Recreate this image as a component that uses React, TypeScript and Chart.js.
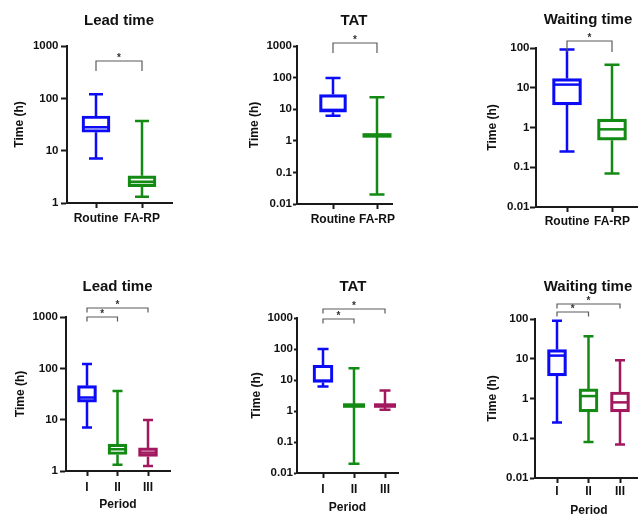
import React, { useEffect, useRef } from "react";
import { Chart, registerables } from "chart.js";

Chart.register(...registerables);

// ---------- data ----------
const studyGroups = ["Routine", "FA-RP"];
const periodGroups = ["I", "II", "III"];
const seriesColors = ["#0b0bf5", "#138a13", "#a3175f"];

// five-number summaries: [min, Q1, median, Q3, max]
const leadTimeStudy = [
  [7.1, 22.5, 28, 46, 120],
  [1.32, 2.05, 2.55, 3.3, 37],
];
const tatStudy = [
  [6.2, 8, 9.5, 29, 97],
  [0.02, 1.48, 1.48, 1.48, 24],
];
const waitingStudy = [
  [0.25, 3.7, 12, 17, 92],
  [0.07, 0.48, 0.9, 1.62, 38],
];
const leadTimePeriod = [
  [7, 22, 27, 46, 121],
  [1.33, 2.1, 2.65, 3.35, 36],
  [1.25, 1.92, 2.28, 2.82, 9.8],
];
const tatPeriod = [
  [6.2, 8.3, 9.5, 30, 100],
  [0.02, 1.5, 1.5, 1.5, 24],
  [1.1, 1.5, 1.5, 1.5, 4.6],
];
const waitingPeriod = [
  [0.25, 3.7, 12, 17, 90],
  [0.08, 0.46, 1.15, 1.74, 37],
  [0.07, 0.46, 0.8, 1.46, 9.2],
];

const leadTimeTicks = [1, 10, 100, 1000];
const tatTicks = [0.01, 0.1, 1, 10, 100, 1000];
const waitingTicks = [0.01, 0.1, 1, 10, 100];

const studyComparisons = [[0, 1]];
const periodComparisons = [[0, 1], [0, 2]];

// ---------- layout ----------
type Panel = {
  title: string;
  groups: string[];
  boxes: number[][];
  ticks: number[];
  comparisons: number[][];
  xTitle?: string;
  canvas: { left: number; top: number; width: number; height: number };
  area: { left: number; top: number; right: number; bottom: number };
  cat0: number;
  step: number;
  boxW: number;
  capW: number;
  titleY: number;
  yTitleX: number;
  yTickLen: number;
  yTickPad: number;
  xTickPad: number;
  xTitleY?: number;
  bracketDy: number[];
  bracketLeg: number;
};

// canvas width = 2 * (title centre - canvas left), so the title centres correctly
const panels: Panel[] = [
  {
    title: "Lead time", groups: studyGroups, boxes: leadTimeStudy, ticks: leadTimeTicks, comparisons: studyComparisons,
    canvas: { left: 0, top: 0, width: 238, height: 257 },
    area: { left: 67, top: 46, right: 172, bottom: 203 },
    cat0: 96, step: 46, boxW: 28, capW: 14, titleY: 21, yTitleX: 20, yTickLen: 6, yTickPad: 2.5, xTickPad: 3,
    bracketDy: [15], bracketLeg: 10,
  },
  {
    title: "TAT", groups: studyGroups, boxes: tatStudy, ticks: tatTicks, comparisons: studyComparisons,
    canvas: { left: 213, top: 0, width: 282, height: 257 },
    area: { left: 297, top: 46, right: 392, bottom: 204 },
    cat0: 333, step: 44, boxW: 27, capW: 15, titleY: 21, yTitleX: 255, yTickLen: 4, yTickPad: 1, xTickPad: 3.8,
    bracketDy: [-3], bracketLeg: 10,
  },
  {
    title: "Waiting time", groups: studyGroups, boxes: waitingStudy, ticks: waitingTicks, comparisons: studyComparisons,
    canvas: { left: 426, top: 0, width: 324, height: 257 },
    area: { left: 536, top: 48, right: 643, bottom: 207 },
    cat0: 567, step: 45, boxW: 29, capW: 15, titleY: 20, yTitleX: 492.5, yTickLen: 6, yTickPad: 0.5, xTickPad: 2.8,
    bracketDy: [-7], bracketLeg: 11,
  },
  {
    title: "Lead time", groups: periodGroups, boxes: leadTimePeriod, ticks: leadTimeTicks, comparisons: periodComparisons, xTitle: "Period",
    canvas: { left: 0, top: 257, width: 235, height: 270 },
    area: { left: 66, top: 317, right: 170, bottom: 471 },
    cat0: 87, step: 30.5, boxW: 19, capW: 10, titleY: 287, yTitleX: 20.7, yTickLen: 6, yTickPad: 2, xTickPad: 4.8, xTitleY: 505,
    bracketDy: [0, -9], bracketLeg: 4.5,
  },
  {
    title: "TAT", groups: periodGroups, boxes: tatPeriod, ticks: tatTicks, comparisons: periodComparisons, xTitle: "Period",
    canvas: { left: 213, top: 257, width: 280, height: 270 },
    area: { left: 297, top: 318, right: 398, bottom: 473 },
    cat0: 323, step: 31, boxW: 20, capW: 11, titleY: 287, yTitleX: 256.7, yTickLen: 3, yTickPad: 1, xTickPad: 4.8, xTitleY: 508,
    bracketDy: [1, -9], bracketLeg: 4.5,
  },
  {
    title: "Waiting time", groups: periodGroups, boxes: waitingPeriod, ticks: waitingTicks, comparisons: periodComparisons, xTitle: "Period",
    canvas: { left: 426, top: 257, width: 324, height: 270 },
    area: { left: 535, top: 319, right: 643, bottom: 478 },
    cat0: 557, step: 31.5, boxW: 19, capW: 10, titleY: 287, yTitleX: 492.3, yTickLen: 5, yTickPad: 1.5, xTickPad: 1.8, xTitleY: 511,
    bracketDy: [-7, -15], bracketLeg: 4.5,
  },
];

const FONT = "'Liberation Sans', Arial, Helvetica, sans-serif";
const AXIS_COLOR = "#1a1a1a";
const LINE_W = 2.5;

function buildConfig(p: Panel): any {
  const c = p.canvas;
  const a = p.area;
  const xMin = -(p.cat0 - a.left) / p.step;
  const xMax = (a.right - p.cat0) / p.step;
  const titleLH = 15 * 1.2;
  const titlePadTop = p.titleY - c.top - titleLH / 2;
  const titlePadBottom = a.top - c.top - titlePadTop - titleLH;
  const yAxisWidth = a.left - c.left;
  const rightSpace = c.width - (a.right - c.left);
  const xAxisHeight = c.height - (a.bottom - c.top);
  const axisTitleLH = 12 * 1.2;

  const whiskerPlugin = {
    id: "boxWhiskers",
    afterDatasetsDraw(chart: any) {
      const ctx = chart.ctx;
      const xs = chart.scales.x;
      const ys = chart.scales.y;
      ctx.save();
      ctx.lineCap = "butt";
      p.boxes.forEach((b, i) => {
        const [mn, q1, med, q3, mx] = b;
        const x = xs.getPixelForValue(i);
        const color = seriesColors[i];
        ctx.strokeStyle = color;
        ctx.lineWidth = LINE_W;
        const yMin = ys.getPixelForValue(mn);
        const yQ1 = ys.getPixelForValue(q1);
        const yQ3 = ys.getPixelForValue(q3);
        const yMax = ys.getPixelForValue(mx);
        ctx.beginPath();
        ctx.moveTo(x, yQ3);
        ctx.lineTo(x, yMax);
        ctx.moveTo(x - p.capW / 2, yMax);
        ctx.lineTo(x + p.capW / 2, yMax);
        ctx.moveTo(x, yQ1);
        ctx.lineTo(x, yMin);
        ctx.moveTo(x - p.capW / 2, yMin);
        ctx.lineTo(x + p.capW / 2, yMin);
        ctx.stroke();
        // median
        const yMed = ys.getPixelForValue(med);
        ctx.lineWidth = q1 === q3 ? 4.5 : LINE_W;
        ctx.beginPath();
        const half = q1 === q3 ? p.boxW / 2 + 1 : p.boxW / 2 - 1;
        ctx.moveTo(x - half, yMed);
        ctx.lineTo(x + half, yMed);
        ctx.stroke();
      });
      // significance brackets
      ctx.strokeStyle = "#5a5a5a";
      ctx.fillStyle = "#333";
      ctx.lineWidth = 1.2;
      ctx.font = `bold 10px ${FONT}`;
      ctx.textAlign = "center";
      ctx.textBaseline = "middle";
      p.comparisons.forEach((cmp, k) => {
        const x1 = xs.getPixelForValue(cmp[0]);
        const x2 = xs.getPixelForValue(cmp[1]);
        const y = chart.chartArea.top + p.bracketDy[k];
        ctx.beginPath();
        ctx.moveTo(x1, y + p.bracketLeg);
        ctx.lineTo(x1, y);
        ctx.lineTo(x2, y);
        ctx.lineTo(x2, y + p.bracketLeg);
        ctx.stroke();
        ctx.fillText("*", (x1 + x2) / 2, y - 3);
      });
      ctx.restore();
    },
  };

  return {
    type: "bar",
    data: {
      datasets: [
        {
          data: p.boxes.map((b, i) => ({ x: i, y: [b[1], b[3]] })),
          backgroundColor: "rgba(255,255,255,0)",
          borderColor: p.boxes.map((_, i) => seriesColors[i]),
          borderWidth: LINE_W,
          borderSkipped: false,
          barThickness: p.boxW,
        },
      ],
    },
    options: {
      responsive: false,
      maintainAspectRatio: false,
      animation: false,
      events: [],
      layout: { padding: 0 },
      plugins: {
        legend: { display: false },
        tooltip: { enabled: false },
        title: {
          display: true,
          fullSize: true,
          text: p.title,
          color: "#111",
          font: { family: FONT, size: 15, weight: "bold", lineHeight: 1.2 },
          padding: { top: titlePadTop, bottom: titlePadBottom },
        },
      },
      scales: {
        x: {
          type: "linear",
          min: xMin,
          max: xMax,
          offset: false,
          afterBuildTicks: (scale: any) => {
            scale.ticks = p.groups.map((_, i) => ({ value: i }));
          },
          afterFit: (scale: any) => {
            scale.height = xAxisHeight;
          },
          ticks: {
            autoSkip: false,
            maxRotation: 0,
            padding: p.xTickPad,
            color: "#111",
            font: { family: FONT, size: 12, weight: "bold", lineHeight: 1.2 },
            callback: (v: any) => p.groups[v] ?? "",
          },
          grid: {
            offset: false,
            drawOnChartArea: false,
            drawTicks: true,
            tickLength: 5,
            tickWidth: 2,
            tickColor: AXIS_COLOR,
          },
          border: { display: true, color: AXIS_COLOR, width: 2 },
          title: p.xTitle
            ? {
                display: true,
                text: p.xTitle,
                color: "#111",
                font: { family: FONT, size: 12, weight: "bold", lineHeight: 1.2 },
                padding: { top: 0, bottom: c.height - (p.xTitleY! - c.top) - axisTitleLH / 2 },
              }
            : { display: false },
        },
        y: {
          type: "logarithmic",
          position: "left",
          min: p.ticks[0],
          max: p.ticks[p.ticks.length - 1],
          afterBuildTicks: (scale: any) => {
            scale.ticks = p.ticks.map((v) => ({ value: v, major: true }));
          },
          afterFit: (scale: any) => {
            scale.width = yAxisWidth;
          },
          ticks: {
            autoSkip: false,
            padding: p.yTickPad,
            color: "#111",
            font: { family: FONT, size: 11.5, weight: "bold", lineHeight: 1.2 },
            callback: (v: any) => String(v),
          },
          grid: {
            drawOnChartArea: false,
            drawTicks: true,
            tickLength: p.yTickLen,
            tickWidth: 2,
            tickColor: AXIS_COLOR,
          },
          border: { display: true, color: AXIS_COLOR, width: 2 },
          title: {
            display: true,
            text: "Time (h)",
            color: "#111",
            font: { family: FONT, size: 12, weight: "bold", lineHeight: 1.2 },
            padding: { top: p.yTitleX - c.left - axisTitleLH / 2, bottom: 0 },
          },
        },
        // empty spacer on the right so the full-width title centres where the reference has it
        spacer: {
          type: "linear",
          position: "right",
          display: true,
          grid: { display: false, drawTicks: false },
          border: { display: false },
          ticks: { display: false },
          title: { display: false },
          afterFit: (scale: any) => {
            scale.width = rightSpace;
          },
        },
      },
    },
    plugins: [whiskerPlugin],
  };
}

function BoxPanel({ panel }: { panel: Panel }) {
  const ref = useRef<HTMLCanvasElement>(null);
  useEffect(() => {
    const chart = new Chart(ref.current as HTMLCanvasElement, buildConfig(panel));
    return () => chart.destroy();
  }, [panel]);
  const c = panel.canvas;
  return (
    <canvas
      ref={ref}
      width={c.width}
      height={c.height}
      style={{ position: "absolute", left: c.left, top: c.top, width: c.width, height: c.height }}
    />
  );
}

export default function App() {
  return (
    <div
      style={{
        position: "fixed",
        left: 0,
        top: 0,
        width: 638,
        height: 514,
        overflow: "hidden",
        background: "#fff",
      }}
    >
      {panels.map((p, i) => (
        <BoxPanel key={i} panel={p} />
      ))}
    </div>
  );
}
